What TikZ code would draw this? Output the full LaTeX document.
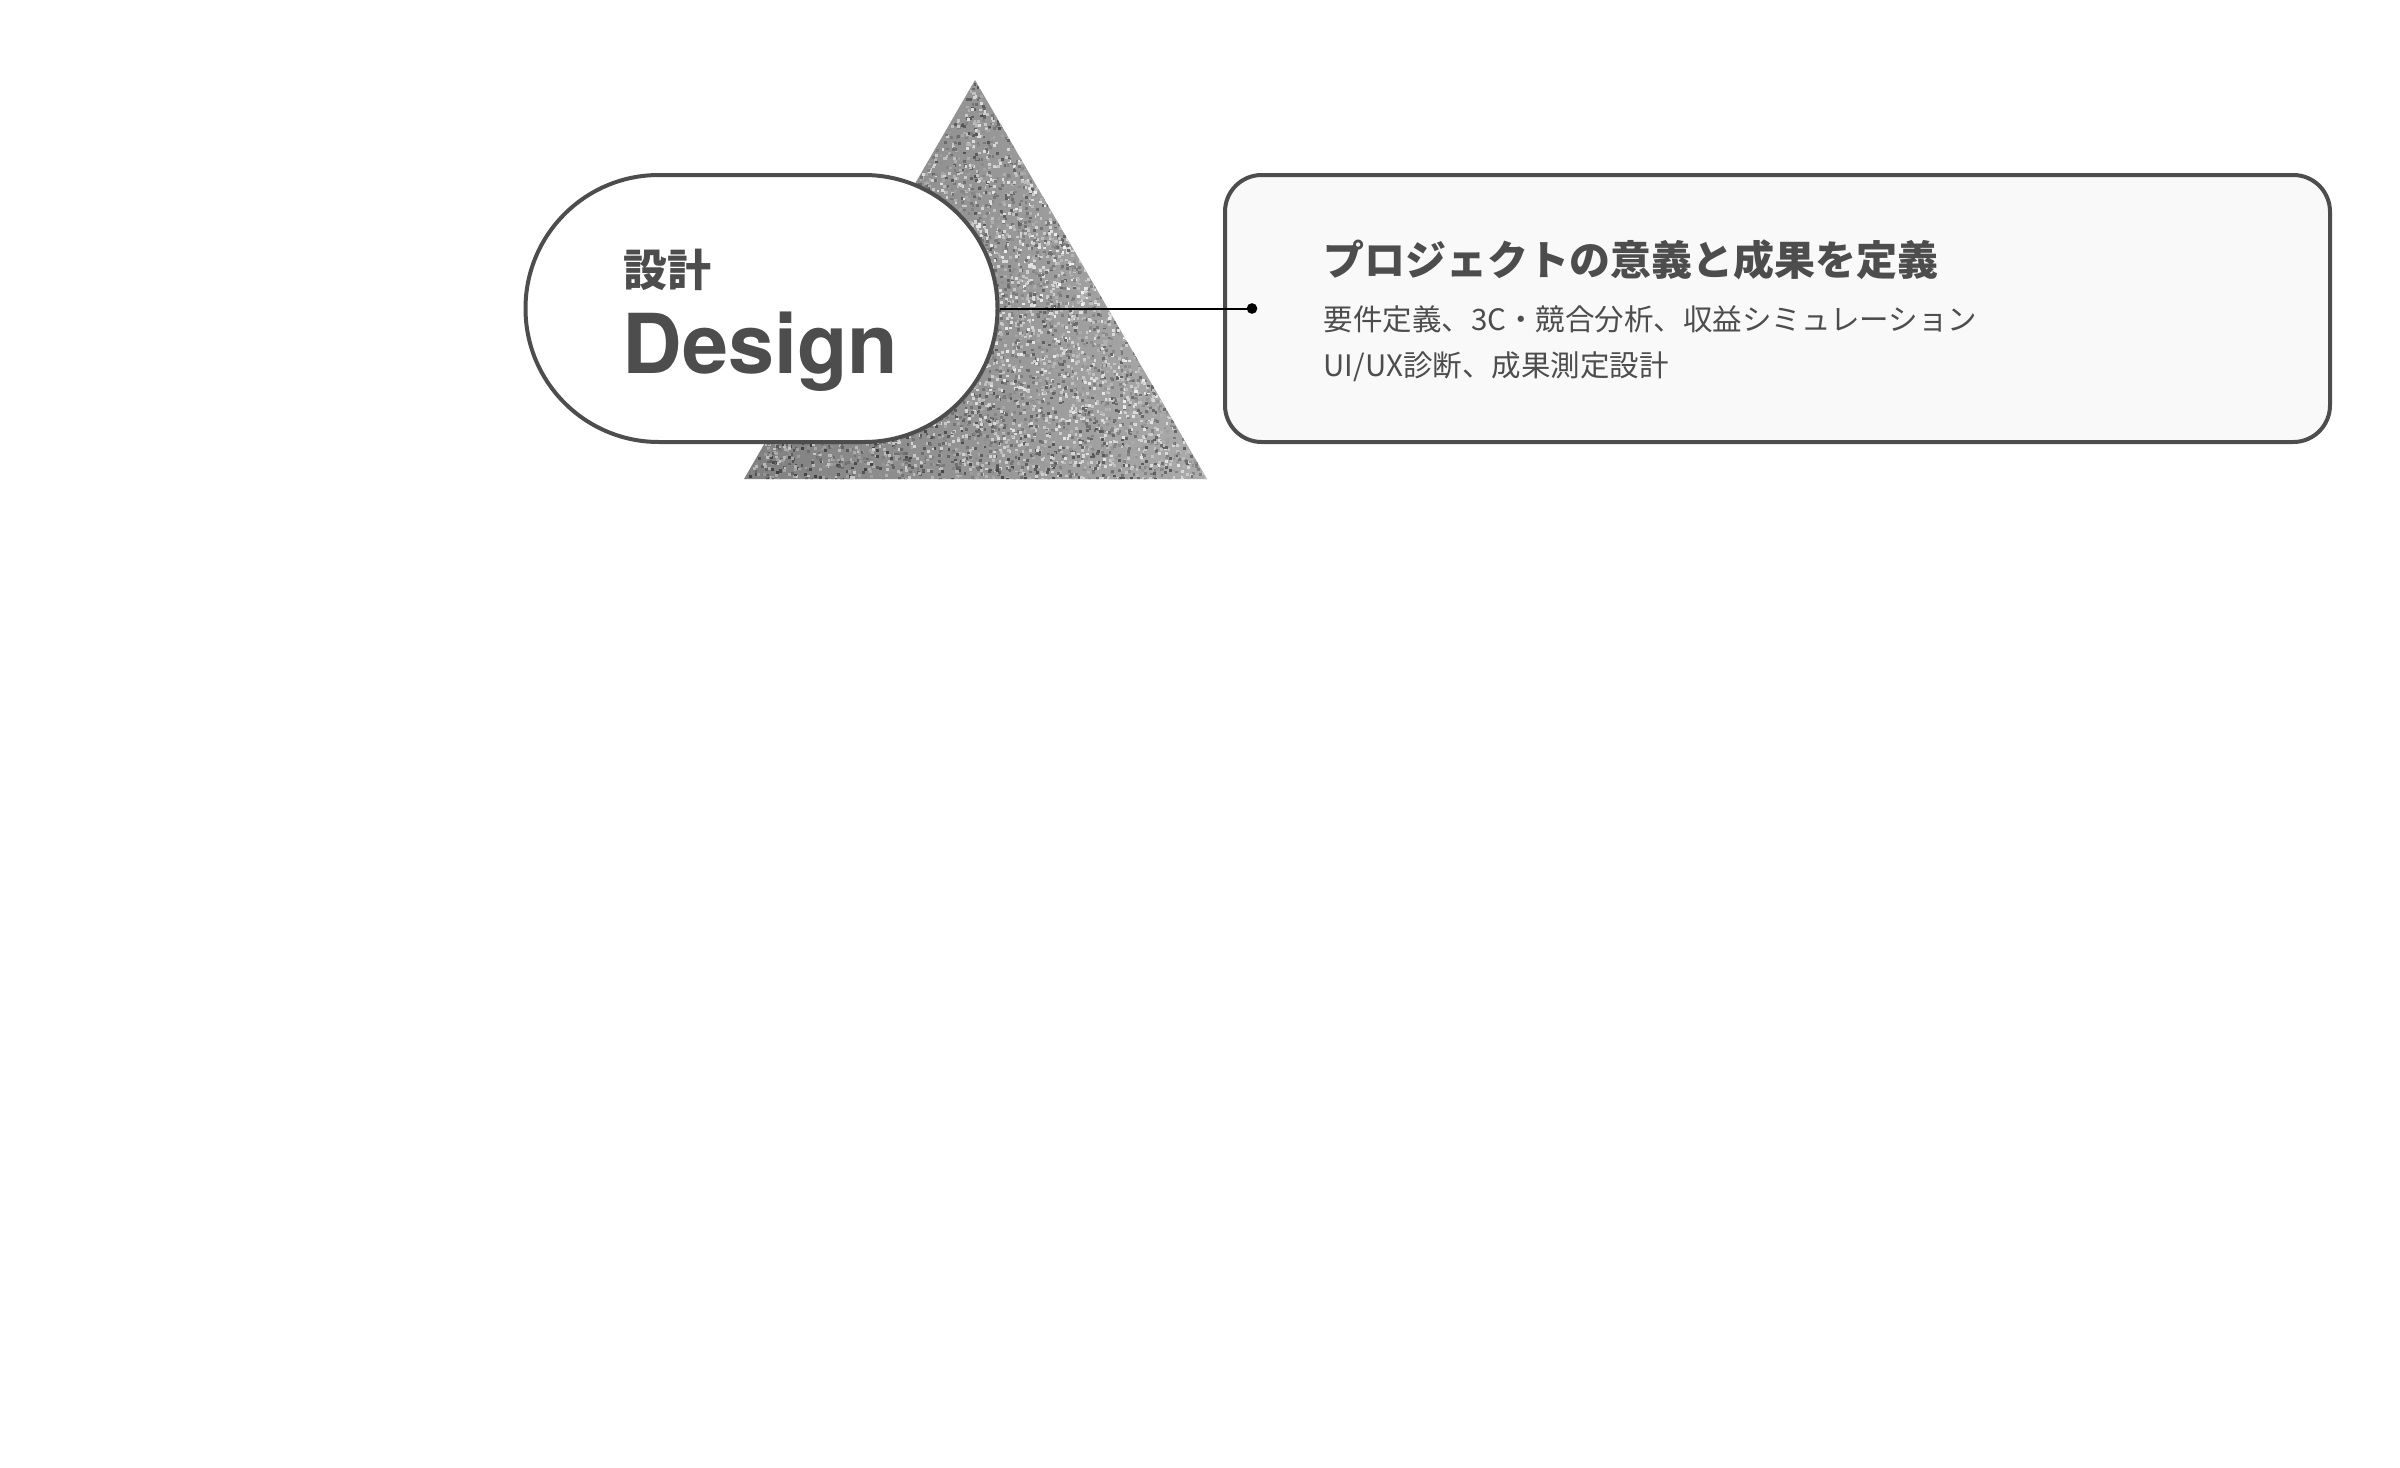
\documentclass[tikz,border=0pt]{standalone}
\usepackage{fontspec}
\newfontfamily\jp{Noto Sans CJK JP}
\newfontfamily\heros{TeX Gyre Heros}
\definecolor{ink}{HTML}{4D4D4D}
\definecolor{boxfill}{HTML}{F9F9F9}
\tikzset{
  pill/.style={draw=ink, line width=1.2pt, fill=white, rounded corners=40pt,
    minimum width=141.6pt, minimum height=80.1pt, inner sep=0pt},
  infobox/.style={draw=ink, line width=1.2pt, fill=boxfill, rounded corners=11pt,
    minimum width=331.5pt, minimum height=80.1pt, inner sep=0pt},
  txt/.style={anchor=base west, inner sep=0pt, text=ink},
  link/.style={draw=black, line width=0.6pt},
  linkdot/.style={circle, fill=black, inner sep=0pt, minimum size=3.2pt}
}
\begin{document}
\begin{tikzpicture}[x=0.3pt, y=-0.3pt]
\useasboundingbox (0,0) rectangle (2400,1468);
% noisy triangle
\begin{scope}
  \clip (975,80) -- (1207,479) -- (744,479) -- cycle;
  \shade[left color=black!50, right color=black!33] (744,80) rectangle (1207,479);
  \pgfmathsetseed{7}
  \foreach \i in {1,...,6000}{
    \pgfmathsetmacro{\r}{sqrt(rnd)}
    \pgfmathsetmacro{\u}{rnd}
    \pgfmathsetmacro{\px}{975+(\u-0.5)*463*\r}
    \pgfmathsetmacro{\py}{80+399*\r}
    \pgfmathsetmacro{\g}{int(max(5,min(85,44-14*\u*\r-8*sin(180*\r)+8*\r+56*(rnd-0.5))))}
    \fill[black!\g] (\px,\py) rectangle ++(2.8,2.8);
  }
\end{scope}
% pill
\node[pill] (pill) at (761.5,308.5) {};
\node[txt, font={\jp\bfseries\fontsize{13.2pt}{15pt}\selectfont}] (jtitle) at (623,286) {設計};
\node[txt, font={\heros\bfseries\fontsize{24.8pt}{28pt}\selectfont}] (etitle) at (622,373) {Design};
% info box
\node[infobox] (box) at (1777.5,308.5) {};
\node[txt, font={\jp\bfseries\fontsize{12.3pt}{14pt}\selectfont}] (head) at (1323,275) {プロジェクトの意義と成果を定義};
\node[txt, font={\jp\fontsize{8.85pt}{10pt}\selectfont}] (l1) at (1323,330) {要件定義、3C・競合分析、収益シミュレーション};
\node[txt, font={\jp\fontsize{8.85pt}{10pt}\selectfont}] (l2) at (1323,376) {UI/UX診断、成果測定設計};
% connector
\node[linkdot] (dot) at (1252,308.5) {};
\draw[link] (pill.east) -- (dot.center);
\end{tikzpicture}
\end{document}
